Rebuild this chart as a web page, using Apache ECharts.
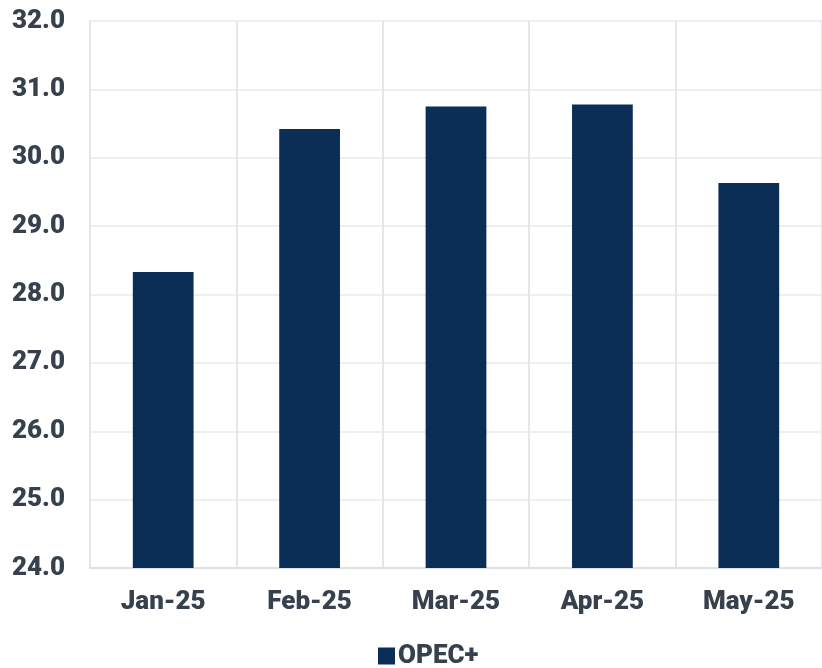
<!DOCTYPE html>
<html>
<head>
<meta charset="utf-8">
<script src="https://cdn.jsdelivr.net/npm/echarts@6/dist/echarts.min.js"></script>
<style>
  html, body { margin: 0; padding: 0; background: #fff; }
  #chart { width: 822px; height: 668px; }
</style>
</head>
<body>
<div id="chart"></div>
<script>
// data
var months = ['Jan-25', 'Feb-25', 'Mar-25', 'Apr-25', 'May-25'];
var opecPlus = [28.33, 30.42, 30.75, 30.78, 29.63];
var seriesName = 'OPEC+';

var textColor = '#37414d';
var chart = echarts.init(document.getElementById('chart'));
chart.setOption({
    animation: false,
    textStyle: { fontFamily: 'Roboto' },
    grid: { left: 90, right: 0, top: 21, bottom: 100 },
    legend: {
        data: [seriesName],
        left: 378, top: 643,
        padding: 0,
        itemWidth: 17, itemHeight: 17, itemGap: 4,
        icon: 'rect',
        textStyle: { color: textColor, fontSize: 26, fontWeight: 900, padding: [0, 0, 0, -2] }
    },
    xAxis: {
        type: 'category',
        data: months,
        axisLine: { lineStyle: { color: '#dde1e6', width: 2 } },
        axisTick: { show: false },
        splitLine: { show: true, lineStyle: { color: '#e3e6ea', width: 2 } },
        axisLabel: { color: textColor, fontSize: 26, fontWeight: 900, margin: 21 }
    },
    yAxis: {
        type: 'value',
        min: 24, max: 32, interval: 1,
        axisLine: { show: true, lineStyle: { color: '#e3e6ea', width: 2 } },
        axisTick: { show: false },
        splitLine: { lineStyle: { color: '#eeeff1', width: 2 } },
        axisLabel: {
            color: textColor, fontSize: 26, fontWeight: 900, margin: 25,
            formatter: function (v) { return v.toFixed(1); }
        }
    },
    series: [{
        name: seriesName,
        type: 'bar',
        data: opecPlus,
        barWidth: '41.5%',
        itemStyle: { color: '#0b2e57' }
    }]
});
</script>
</body>
</html>
